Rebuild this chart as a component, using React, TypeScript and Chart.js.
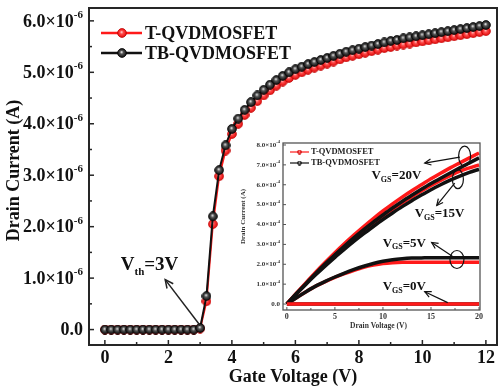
import React, { useEffect, useRef } from "react";
import { Chart, registerables } from "chart.js";

Chart.register(...registerables);

const SERIF = '"Liberation Serif", "Times New Roman", "DejaVu Serif", serif';

// ---------- Main chart: transfer characteristics (current in units of 1e-6 A) ----------
const seriesNames = ["T-QVDMOSFET", "TB-QVDMOSFET"];
const gateVoltage = [
  0, 0.2, 0.4, 0.6, 0.8, 1.0, 1.2, 1.4, 1.6, 1.8, 2.0, 2.2, 2.4, 2.6, 2.8, 3.0,
  3.2, 3.4, 3.6, 3.8, 4.0, 4.2, 4.4, 4.6, 4.8, 5.0, 5.2, 5.4, 5.6, 5.8, 6.0,
  6.2, 6.4, 6.6, 6.8, 7.0, 7.2, 7.4, 7.6, 7.8, 8.0, 8.2, 8.4, 8.6, 8.8, 9.0,
  9.2, 9.4, 9.6, 9.8, 10.0, 10.2, 10.4, 10.6, 10.8, 11.0, 11.2, 11.4, 11.6, 11.8, 12.0,
];
const drainCurrentT = [
  0, 0, 0, 0, 0, 0, 0, 0, 0, 0, 0, 0, 0, 0, 0, 0.02,
  0.55, 2.05, 2.98, 3.48, 3.8, 4.0, 4.17, 4.31, 4.44, 4.55, 4.65, 4.74, 4.82, 4.89, 4.95,
  5.0, 5.05, 5.09, 5.13, 5.17, 5.21, 5.25, 5.29, 5.32, 5.35, 5.38, 5.41, 5.44, 5.47, 5.49,
  5.52, 5.54, 5.56, 5.58, 5.6, 5.62, 5.64, 5.66, 5.68, 5.7, 5.72, 5.74, 5.76, 5.78, 5.8,
];
const drainCurrentTB = [
  0, 0, 0, 0, 0, 0, 0, 0, 0, 0, 0, 0, 0, 0, 0, 0.03,
  0.65, 2.2, 3.1, 3.58, 3.9, 4.1, 4.27, 4.42, 4.55, 4.66, 4.76, 4.85, 4.93, 5.0, 5.06,
  5.11, 5.16, 5.2, 5.24, 5.28, 5.32, 5.36, 5.4, 5.43, 5.46, 5.49, 5.52, 5.55, 5.58, 5.61,
  5.63, 5.66, 5.68, 5.7, 5.72, 5.74, 5.76, 5.78, 5.8, 5.82, 5.84, 5.86, 5.88, 5.9, 5.92,
];
const mainXTicks = [0, 2, 4, 6, 8, 10, 12];
const mainXMinorTicks = [1, 3, 5, 7, 9, 11];
const mainYTicks = [0, 1, 2, 3, 4, 5, 6];
const mainYMinorTicks = [0.5, 1.5, 2.5, 3.5, 4.5, 5.5];
const mainYExponent = "-6";

// ---------- Inset: output characteristics (current in units of 1e-4 A) ----------
const drainVoltage = [0, 1, 2, 3, 4, 5, 6, 7, 8, 9, 10, 11, 12, 13, 14, 15, 16, 17, 18, 19, 20];
const vgs20T = [0, 0.55, 1.08, 1.6, 2.1, 2.58, 3.04, 3.48, 3.9, 4.3, 4.68, 5.04, 5.38, 5.7, 6.0, 6.3, 6.58, 6.85, 7.1, 7.35, 7.6];
const vgs20TB = [0, 0.53, 1.04, 1.54, 2.02, 2.48, 2.92, 3.34, 3.74, 4.12, 4.48, 4.83, 5.16, 5.47, 5.77, 6.06, 6.33, 6.59, 6.85, 7.1, 7.35];
const vgs15T = [0, 0.53, 1.04, 1.53, 2.0, 2.45, 2.88, 3.29, 3.68, 4.06, 4.42, 4.76, 5.08, 5.39, 5.68, 5.96, 6.22, 6.46, 6.68, 6.85, 7.0];
const vgs15TB = [0, 0.51, 1.0, 1.47, 1.92, 2.35, 2.76, 3.16, 3.54, 3.9, 4.25, 4.58, 4.9, 5.2, 5.48, 5.75, 6.0, 6.23, 6.44, 6.62, 6.78];
const vgs5T = [0, 0.32, 0.62, 0.9, 1.13, 1.34, 1.53, 1.7, 1.85, 1.96, 2.04, 2.08, 2.1, 2.1, 2.1, 2.1, 2.1, 2.1, 2.1, 2.1, 2.1];
const vgs5TB = [0, 0.32, 0.62, 0.9, 1.14, 1.36, 1.56, 1.74, 1.9, 2.04, 2.15, 2.23, 2.28, 2.31, 2.32, 2.33, 2.33, 2.33, 2.33, 2.33, 2.33];
const vgs0T = [0, 0, 0, 0, 0, 0, 0, 0, 0, 0, 0, 0, 0, 0, 0, 0, 0, 0, 0, 0, 0];
const vgs0TB = [0, 0, 0, 0, 0, 0, 0, 0, 0, 0, 0, 0, 0, 0, 0, 0, 0, 0, 0, 0, 0];
const insetXTicks = [0, 5, 10, 15, 20];
const insetXMinorTicks = [2.5, 7.5, 12.5, 17.5];
const insetYTicks = [0, 1, 2, 3, 4, 5, 6, 7, 8];
const insetYExponent = "-4";

const RED = "#ff1a1a";
const BLACK = "#111111";

function makeSphere(base: string, mid: string, light: string, edge: string, size: number) {
  const c = document.createElement("canvas");
  c.width = size;
  c.height = size;
  const g = c.getContext("2d")!;
  const r = size / 2;
  const grad = g.createRadialGradient(r * 0.9, r * 0.8, 0, r, r, r);
  grad.addColorStop(0, light);
  grad.addColorStop(0.35, mid);
  grad.addColorStop(1, base);
  g.beginPath();
  g.arc(r, r, r - 0.6, 0, Math.PI * 2);
  g.fillStyle = grad;
  g.fill();
  g.lineWidth = 0.8;
  g.strokeStyle = edge;
  g.stroke();
  return c;
}

function line(ctx: CanvasRenderingContext2D, x1: number, y1: number, x2: number, y2: number) {
  ctx.beginPath();
  ctx.moveTo(x1, y1);
  ctx.lineTo(x2, y2);
  ctx.stroke();
}

function arrow(ctx: CanvasRenderingContext2D, x1: number, y1: number, x2: number, y2: number, head: number) {
  line(ctx, x1, y1, x2, y2);
  const ang = Math.atan2(y2 - y1, x2 - x1);
  const a1 = ang + Math.PI - 0.45;
  const a2 = ang + Math.PI + 0.45;
  ctx.beginPath();
  ctx.moveTo(x2 + head * Math.cos(a1), y2 + head * Math.sin(a1));
  ctx.lineTo(x2, y2);
  ctx.lineTo(x2 + head * Math.cos(a2), y2 + head * Math.sin(a2));
  ctx.stroke();
}

function drawSci(ctx: CanvasRenderingContext2D, mant: string, exp: string, xRight: number, yMid: number, size: number, sub: number) {
  ctx.textAlign = "left";
  ctx.textBaseline = "middle";
  ctx.font = `bold ${sub}px ${SERIF}`;
  const w2 = exp ? ctx.measureText(exp).width : 0;
  ctx.font = `bold ${size}px ${SERIF}`;
  const w1 = ctx.measureText(mant).width;
  ctx.fillText(mant, xRight - w2 - w1, yMid);
  if (exp) {
    ctx.font = `bold ${sub}px ${SERIF}`;
    ctx.fillText(exp, xRight - w2, yMid - size * 0.38);
  }
}

function drawSubText(ctx: CanvasRenderingContext2D, main: string, sub: string, rest: string, x: number, base: number, size: number, subSize: number) {
  ctx.textAlign = "left";
  ctx.textBaseline = "alphabetic";
  ctx.font = `bold ${size}px ${SERIF}`;
  ctx.fillText(main, x, base);
  let cx = x + ctx.measureText(main).width;
  ctx.font = `bold ${subSize}px ${SERIF}`;
  ctx.fillText(sub, cx, base + size * 0.22);
  cx += ctx.measureText(sub).width;
  ctx.font = `bold ${size}px ${SERIF}`;
  ctx.fillText(rest, cx, base);
}

export default function App() {
  const mainRef = useRef<HTMLCanvasElement>(null);
  const insetRef = useRef<HTMLCanvasElement>(null);

  useEffect(() => {
    const redBall = makeSphere("#e00000", "#ff4a4a", "#ffd8d8", "#c00000", 10);
    const blackBall = makeSphere("#000000", "#555555", "#ffffff", "#000000", 10);
    const redDot = makeSphere("#e00000", "#ff4a4a", "#ffd8d8", "#c00000", 5);
    const blackDot = makeSphere("#000000", "#666666", "#ffffff", "#000000", 5);

    const mainDecor = {
      id: "mainDecor",
      afterDraw(chart: any) {
        const ctx: CanvasRenderingContext2D = chart.ctx;
        const a = chart.chartArea;
        const xs = chart.scales.x;
        const ys = chart.scales.y;
        ctx.save();
        ctx.strokeStyle = "#262626";
        ctx.lineWidth = 2;
        ctx.strokeRect(a.left, a.top, a.right - a.left, a.bottom - a.top);
        ctx.lineWidth = 1.5;
        mainXTicks.forEach((v) => { const p = xs.getPixelForValue(v); line(ctx, p, a.bottom, p, a.bottom - 5); });
        mainXMinorTicks.forEach((v) => { const p = xs.getPixelForValue(v); line(ctx, p, a.bottom, p, a.bottom - 3); });
        mainYTicks.forEach((v) => { const p = ys.getPixelForValue(v); line(ctx, a.left, p, a.left + 5, p); });
        mainYMinorTicks.forEach((v) => { const p = ys.getPixelForValue(v); line(ctx, a.left, p, a.left + 3, p); });

        ctx.fillStyle = "#111";
        ctx.font = `bold 18px ${SERIF}`;
        ctx.textAlign = "center";
        ctx.textBaseline = "middle";
        mainXTicks.forEach((v) => ctx.fillText(String(v), xs.getPixelForValue(v), a.bottom + 13));
        mainYTicks.forEach((v) => {
          const p = ys.getPixelForValue(v) + 1;
          if (v === 0) drawSci(ctx, "0.0", "", a.left - 6, p, 18, 11);
          else drawSci(ctx, `${v.toFixed(1)}×10`, mainYExponent, a.left - 6, p, 18, 11);
        });

        ctx.font = `bold 18px ${SERIF}`;
        ctx.textAlign = "center";
        ctx.textBaseline = "middle";
        ctx.fillText("Gate Voltage (V)", (a.left + a.right) / 2, a.bottom + 32);
        ctx.save();
        ctx.translate(14, (a.top + a.bottom) / 2 - 6);
        ctx.rotate(-Math.PI / 2);
        ctx.fillText("Drain Current (A)", 0, 0);
        ctx.restore();

        // legend
        const rows = [
          { name: seriesNames[0], color: RED, ball: redBall, y: a.top + 25 },
          { name: seriesNames[1], color: BLACK, ball: blackBall, y: a.top + 45 },
        ];
        rows.forEach((r) => {
          ctx.strokeStyle = r.color;
          ctx.lineWidth = 2.5;
          line(ctx, a.left + 12, r.y, a.left + 53, r.y);
          ctx.drawImage(r.ball, a.left + 33 - 5, r.y - 5);
          ctx.fillStyle = "#111";
          ctx.font = `bold 18px ${SERIF}`;
          ctx.textAlign = "left";
          ctx.textBaseline = "middle";
          ctx.fillText(r.name, a.left + 56, r.y + 1);
        });

        // threshold annotation
        ctx.fillStyle = "#111";
        drawSubText(ctx, "V", "th", "=3V", xs.getPixelForValue(0.5), ys.getPixelForValue(1.15), 19, 11);
        ctx.strokeStyle = "#222";
        ctx.lineWidth = 1.5;
        arrow(ctx, xs.getPixelForValue(3.0), ys.getPixelForValue(0.08), xs.getPixelForValue(1.9), ys.getPixelForValue(0.97), 9);
        ctx.restore();
      },
    };

    const insetDecor = {
      id: "insetDecor",
      afterDraw(chart: any) {
        const ctx: CanvasRenderingContext2D = chart.ctx;
        const a = chart.chartArea;
        const xs = chart.scales.x;
        const ys = chart.scales.y;
        const X = (v: number) => xs.getPixelForValue(v);
        const Y = (v: number) => ys.getPixelForValue(v);
        ctx.save();
        ctx.strokeStyle = "#555";
        ctx.lineWidth = 1.3;
        ctx.strokeRect(a.left, a.top, a.right - a.left, a.bottom - a.top);
        ctx.lineWidth = 1;
        insetXTicks.forEach((v) => line(ctx, X(v), a.bottom, X(v), a.bottom - 3));
        insetXMinorTicks.forEach((v) => line(ctx, X(v), a.bottom, X(v), a.bottom - 2));
        insetYTicks.forEach((v) => line(ctx, a.left, Y(v), a.left + 3, Y(v)));

        ctx.fillStyle = "#333";
        ctx.font = `bold 8px ${SERIF}`;
        ctx.textAlign = "center";
        ctx.textBaseline = "middle";
        insetXTicks.forEach((v) => ctx.fillText(String(v), X(v), a.bottom + 7));
        insetYTicks.forEach((v) => {
          if (v === 0) drawSci(ctx, "0.0", "", a.left - 3, Y(v), 7, 4.5);
          else drawSci(ctx, `${v.toFixed(1)}×10`, insetYExponent, a.left - 3, Y(v), 7, 4.5);
        });
        ctx.font = `bold 7.5px ${SERIF}`;
        ctx.textAlign = "center";
        ctx.textBaseline = "middle";
        ctx.fillText("Drain Voltage (V)", (a.left + a.right) / 2 - 3, a.bottom + 16.5);
        ctx.save();
        ctx.translate(a.left - 40, (a.top + a.bottom) / 2 - 10);
        ctx.rotate(-Math.PI / 2);
        ctx.font = `bold 7px ${SERIF}`;
        ctx.fillText("Drain Current (A)", 0, 0);
        ctx.restore();

        // legend
        const rows = [
          { name: seriesNames[0], color: RED, dot: redDot, y: a.top + 9 },
          { name: seriesNames[1], color: BLACK, dot: blackDot, y: a.top + 20 },
        ];
        rows.forEach((r) => {
          ctx.strokeStyle = r.color;
          ctx.lineWidth = 1.2;
          line(ctx, a.left + 7, r.y, a.left + 26, r.y);
          ctx.drawImage(r.dot, a.left + 16.5 - 2.5, r.y - 2.5);
          ctx.fillStyle = "#222";
          ctx.font = `bold 8.5px ${SERIF}`;
          ctx.textAlign = "left";
          ctx.textBaseline = "middle";
          ctx.fillText(r.name, a.left + 28, r.y);
        });

        // annotations
        ctx.fillStyle = "#111";
        drawSubText(ctx, "V", "GS", "=20V", X(8.8), Y(6.29), 13, 8);
        drawSubText(ctx, "V", "GS", "=15V", X(13.3), Y(4.36), 13, 8);
        drawSubText(ctx, "V", "GS", "=5V", X(9.97), Y(2.89), 13, 8);
        drawSubText(ctx, "V", "GS", "=0V", X(9.97), Y(0.72), 13, 8);

        ctx.strokeStyle = "#111";
        ctx.lineWidth = 1.2;
        const ell = (cx: number, cy: number, rx: number, ry: number) => {
          ctx.beginPath();
          ctx.ellipse(X(cx), Y(cy), rx, ry, 0, 0, Math.PI * 2);
          ctx.stroke();
        };
        ell(18.5, 7.44, 6, 10);
        ell(17.8, 6.28, 5.5, 9.5);
        ell(17.7, 2.24, 7, 9);
        arrow(ctx, X(18.0), Y(7.39), X(14.35), Y(7.09), 7);
        arrow(ctx, X(17.47), Y(6.08), X(15.6), Y(4.96), 7);
        arrow(ctx, X(17.26), Y(2.39), X(15.07), Y(3.1), 7);
        arrow(ctx, X(16.74), Y(0.07), X(14.35), Y(0.62), 7);
        ctx.restore();
      },
    };

    const toXY = (xsArr: number[], ysArr: number[]) => xsArr.map((x, i) => ({ x, y: ysArr[i] }));

    const main = new Chart(mainRef.current!, {
      type: "line",
      data: {
        datasets: [
          {
            label: seriesNames[1],
            data: toXY(gateVoltage, drainCurrentTB),
            borderColor: BLACK,
            backgroundColor: BLACK,
            borderWidth: 2,
            pointStyle: blackBall as any,
            pointRadius: 5,
          },
          {
            label: seriesNames[0],
            data: toXY(gateVoltage, drainCurrentT),
            borderColor: RED,
            backgroundColor: RED,
            borderWidth: 2,
            pointStyle: redBall as any,
            pointRadius: 5,
          },
        ],
      },
      options: {
        animation: false,
        responsive: true,
        maintainAspectRatio: false,
        layout: { padding: { top: 8, right: 3, left: 0, bottom: 0 } },
        plugins: { legend: { display: false }, tooltip: { enabled: false } },
        scales: {
          x: {
            type: "linear",
            min: -0.5,
            max: 12.35,
            grid: { display: false },
            border: { display: false },
            ticks: { display: false },
            afterFit: (s: any) => { s.height = 44; },
          },
          y: {
            type: "linear",
            min: -0.3,
            max: 6.25,
            grid: { display: false },
            border: { display: false },
            ticks: { display: false },
            afterFit: (s: any) => { s.width = 89; },
          },
        },
      },
      plugins: [mainDecor],
    });

    const insetLine = (label: string, data: number[], color: string) => ({
      label,
      data: toXY(drainVoltage, data),
      borderColor: color,
      backgroundColor: color,
      borderWidth: 3.5,
      pointRadius: 0,
      cubicInterpolationMode: "monotone" as const,
    });

    const inset = new Chart(insetRef.current!, {
      type: "line",
      data: {
        datasets: [
          insetLine(seriesNames[0] + " VGS=0V", vgs0T, RED),
          insetLine(seriesNames[1] + " VGS=20V", vgs20TB, BLACK),
          insetLine(seriesNames[1] + " VGS=15V", vgs15TB, BLACK),
          insetLine(seriesNames[1] + " VGS=5V", vgs5TB, BLACK),
          insetLine(seriesNames[1] + " VGS=0V", vgs0TB, BLACK),
          insetLine(seriesNames[0] + " VGS=20V", vgs20T, RED),
          insetLine(seriesNames[0] + " VGS=15V", vgs15T, RED),
          insetLine(seriesNames[0] + " VGS=5V", vgs5T, RED),
        ],
      },
      options: {
        animation: false,
        responsive: true,
        maintainAspectRatio: false,
        layout: { padding: { top: 8, right: 10, left: 0, bottom: 0 } },
        plugins: { legend: { display: false }, tooltip: { enabled: false } },
        scales: {
          x: {
            type: "linear",
            min: -0.4,
            max: 20.1,
            grid: { display: false },
            border: { display: false },
            ticks: { display: false },
            afterFit: (s: any) => { s.height = 25; },
          },
          y: {
            type: "linear",
            min: -0.3,
            max: 8.1,
            grid: { display: false },
            border: { display: false },
            ticks: { display: false },
            afterFit: (s: any) => { s.width = 58; },
          },
        },
      },
      plugins: [insetDecor],
    });

    return () => {
      main.destroy();
      inset.destroy();
    };
  }, []);

  return (
    <div style={{ position: "absolute", left: 0, top: 0, width: 504, height: 389, background: "#fff" }}>
      <div style={{ position: "absolute", left: 0, top: 0, width: 504, height: 389 }}>
        <canvas ref={mainRef} />
      </div>
      <div style={{ position: "absolute", left: 225, top: 135, width: 265, height: 200 }}>
        <canvas ref={insetRef} />
      </div>
    </div>
  );
}
